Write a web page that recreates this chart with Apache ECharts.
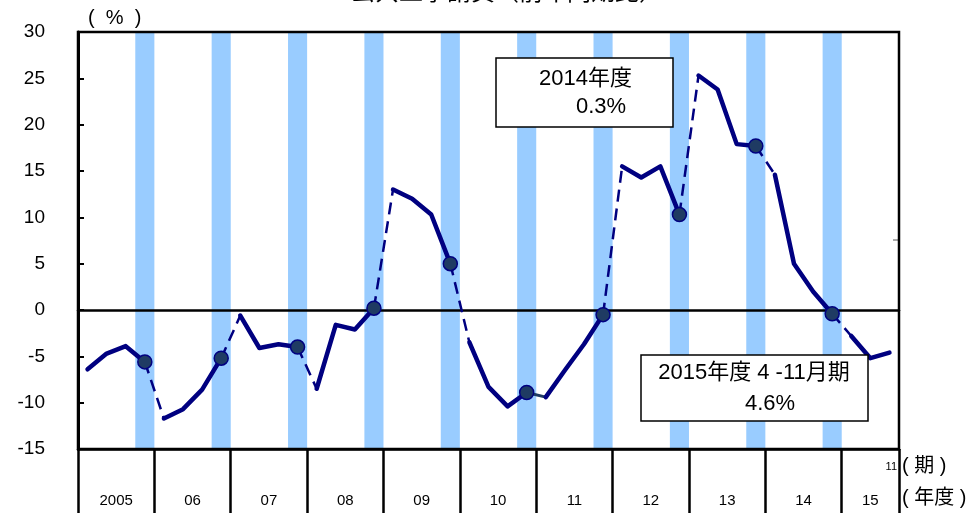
<!DOCTYPE html>
<html>
<head>
<meta charset="utf-8">
<script src="https://cdn.jsdelivr.net/npm/echarts@6/dist/echarts.min.js"></script>
<style>
html,body{margin:0;padding:0;background:#fff;}
#chart{width:969px;height:513px;}
</style>
</head>
<body>
<div id="chart"></div>
<script>
// ---- data ----
var fiscalYears = ['2005','06','07','08','09','10','11','12','13','14','15'];
var quartersPerYear = [4,4,4,4,4,4,4,4,4,4,3];
// quarterly year-on-year change (%), fiscal 2005 Q1 .. fiscal 2015 Q3 (Oct-Nov)
var values = [
  -6.4, -4.7, -3.9, -5.6,    // 2005
  -11.7, -10.7, -8.6, -5.2,  // 2006
  -0.6, -4.1, -3.7, -4.0,    // 2007
  -8.5, -1.6, -2.1, 0.2,     // 2008
  13.0, 12.0, 10.3, 5.0,     // 2009
  -3.5, -8.3, -10.4, -8.9,   // 2010
  -9.4, -6.5, -3.7, -0.5,    // 2011
  15.5, 14.3, 15.5, 10.3,    // 2012
  25.3, 23.8, 17.9, 17.7,    // 2013
  14.6, 5.0, 2.0, -0.4,      // 2014
  -2.8, -5.2, -4.6           // 2015 (4-11月)
];
// year transitions (into fiscal year) drawn as solid instead of dashed
var solidTransitions = ['11'];
var yTicks = {min: -15, max: 30, step: 5};
var lastPeriodLabel = '11';
var annotation1 = ['2014年度', '0.3%'];
var annotation2 = ['2015年度 4 -11月期', '4.6%'];
var titleText = '公共工事請負（前年同期比）';

// ---- build ----
var FONT = "'Liberation Sans', 'Noto Sans CJK JP', sans-serif";
var NAVY = '#000080';
var N = values.length;
var cats = [];
var starts = [];
var s = 0;
fiscalYears.forEach(function (fy, k) {
  starts.push(s);
  for (var q = 0; q < quartersPerYear[k]; q++) cats.push(fy + 'Q' + (q + 1));
  s += quartersPerYear[k];
});
function blank() { var a = []; for (var i = 0; i < N; i++) a.push(null); return a; }

var series = [];
// blue Jan-Mar bands
var barTop = blank(), barBot = blank();
for (var i = 0; i < N; i++) if (i % 4 === 3) { barTop[i] = yTicks.max; barBot[i] = yTicks.min; }
series.push({type: 'bar', data: barTop, barWidth: '100%', barGap: '-100%', itemStyle: {color: '#99CCFF'}, silent: true, z: 1});
series.push({type: 'bar', data: barBot, barWidth: '100%', barGap: '-100%', itemStyle: {color: '#99CCFF'}, silent: true, z: 1});

// links between fiscal years
fiscalYears.forEach(function (fy, k) {
  if (k === 0) return;
  var d = blank();
  var a = starts[k] - 1, b = starts[k];
  d[a] = values[a]; d[b] = values[b];
  var solid = solidTransitions.indexOf(fy) >= 0;
  series.push({type: 'line', data: d, showSymbol: false, connectNulls: false, silent: true, z: 3,
    lineStyle: solid ? {color: '#1F3B63', width: 3} : {color: NAVY, width: 2.5, type: [12, 7]}});
});
// solid within each fiscal year
fiscalYears.forEach(function (fy, k) {
  var d = blank();
  for (var q = 0; q < quartersPerYear[k]; q++) d[starts[k] + q] = values[starts[k] + q];
  series.push({type: 'line', data: d, showSymbol: false, connectNulls: false, silent: true, z: 4,
    lineStyle: {color: NAVY, width: 4.5, cap: 'round', join: 'round'}});
});
// Q4 markers
var dots = blank();
fiscalYears.forEach(function (fy, k) {
  if (quartersPerYear[k] === 4) { var j = starts[k] + 3; dots[j] = values[j]; }
});
series.push({type: 'scatter', data: dots, symbol: 'circle', symbolSize: 14, z: 5, silent: true,
  itemStyle: {color: '#1F3B63', borderColor: NAVY, borderWidth: 1.5, opacity: 1}});

// year label positions on a 0..N value scale
var yearCenters = [], yearBounds = [0];
fiscalYears.forEach(function (fy, k) {
  yearCenters.push(starts[k] + quartersPerYear[k] / 2);
  yearBounds.push(starts[k] + quartersPerYear[k]);
});

var chart = echarts.init(document.getElementById('chart'), null, {renderer: 'canvas'});
chart.setOption({
  animation: false,
  textStyle: {fontFamily: FONT},
  grid: {left: 78, right: 70, top: 32, bottom: 64, show: true, borderColor: '#000', borderWidth: 2.5, backgroundColor: 'transparent', z: 6},
  xAxis: [
    {type: 'category', data: cats, boundaryGap: true, gridIndex: 0,
      axisLine: {show: true, onZero: true, lineStyle: {color: '#000', width: 2.5}},
      axisTick: {show: false}, axisLabel: {show: false}, splitLine: {show: false}, z: 2},
    {type: 'value', min: 0, max: N, gridIndex: 0, position: 'bottom',
      axisLine: {show: true, onZero: false, lineStyle: {color: '#000', width: 2.5}},
      axisTick: {show: true, customValues: yearBounds, length: 64, lineStyle: {color: '#000', width: 2.5}},
      axisLabel: {show: true, customValues: yearCenters, margin: 44, fontSize: 15, color: '#000', fontFamily: FONT,
        formatter: function (v) {
          for (var k = 0; k < yearCenters.length; k++) if (Math.abs(yearCenters[k] - v) < 1e-6) return fiscalYears[k];
          return '';
        }},
      splitLine: {show: false}}
  ],
  yAxis: {type: 'value', min: yTicks.min, max: yTicks.max, interval: yTicks.step,
    axisLine: {show: true, lineStyle: {color: '#000', width: 3}},
    axisTick: {show: true, inside: true, length: 6, lineStyle: {color: '#000', width: 2}},
    axisLabel: {fontSize: 19, color: '#000', margin: 33, fontFamily: FONT},
    splitLine: {show: false}},
  series: series,
  graphic: [
    {type: 'text', x: 507, y: -19, style: {text: titleText, font: '24px ' + FONT, fill: '#000', textAlign: 'center'}},
    {type: 'text', x: 88, y: 8, style: {text: '(  %  )', font: '20px ' + FONT, fill: '#000'}},
    {type: 'text', x: 897, y: 461, style: {text: lastPeriodLabel, font: '11px ' + FONT, fill: '#000', textAlign: 'right'}},
    {type: 'text', x: 902, y: 456, style: {text: '( 期 )', font: '20px ' + FONT, fill: '#000'}},
    {type: 'text', x: 902, y: 488, style: {text: '( 年度 )', font: '20px ' + FONT, fill: '#000'}},
    {type: 'line', shape: {x1: 893, y1: 240, x2: 898, y2: 240}, style: {stroke: '#555', lineWidth: 1}},
    {type: 'rect', shape: {x: 496, y: 58, width: 177, height: 69}, style: {fill: '#fff', stroke: '#000', lineWidth: 1.5}, z: 100},
    {type: 'text', x: 632, y: 79, z: 101, style: {text: annotation1[0], font: '22px ' + FONT, fill: '#000', textAlign: 'right', textVerticalAlign: 'middle'}},
    {type: 'text', x: 601, y: 107, z: 101, style: {text: annotation1[1], font: '22px ' + FONT, fill: '#000', textAlign: 'center', textVerticalAlign: 'middle'}},
    {type: 'rect', shape: {x: 641, y: 355, width: 227, height: 66}, style: {fill: '#fff', stroke: '#000', lineWidth: 1.5}, z: 100},
    {type: 'text', x: 754, y: 373, z: 101, style: {text: annotation2[0], font: '22px ' + FONT, fill: '#000', textAlign: 'center', textVerticalAlign: 'middle'}},
    {type: 'text', x: 770, y: 404, z: 101, style: {text: annotation2[1], font: '22px ' + FONT, fill: '#000', textAlign: 'center', textVerticalAlign: 'middle'}}
  ]
});
</script>
</body>
</html>
